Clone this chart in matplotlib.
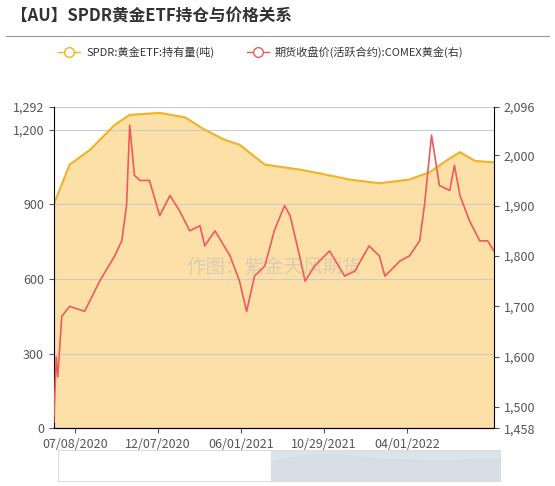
import matplotlib
matplotlib.use('Agg')
import matplotlib.pyplot as plt
import numpy as np

plt.rcParams['font.family'] = ['Noto Sans CJK SC', 'DejaVu Sans']

# trading-day number from chart start
etf_day = [0, 20, 46, 77, 96, 134, 166, 191, 216, 235, 267, 311, 336, 374, 412, 450, 476, 501, 514, 533, 552, 557]
etf_val = [900, 1060, 1120, 1220, 1260, 1268, 1250, 1200, 1160, 1140, 1060, 1040, 1025, 1000, 985, 1000, 1030, 1085, 1110, 1075, 1070, 1070]
px_day = [0, 3, 5, 10, 20, 39, 58, 77, 86, 92, 96, 102, 109, 121, 134, 147, 159, 172, 185, 191, 204, 223, 235, 244, 254,
          267, 279, 292, 299, 311, 318, 330, 349, 368, 381, 399, 412, 419, 438, 450, 463, 469, 478, 488, 501, 507, 514,
          526, 539, 549, 557]
px_val = [1470, 1600, 1560, 1680, 1700, 1690, 1750, 1800, 1830, 1900, 2060, 1960, 1950, 1950, 1880, 1920, 1890, 1850,
          1860, 1820, 1850, 1800, 1750, 1690, 1760, 1780, 1850, 1900, 1880, 1800, 1750, 1780, 1810, 1760, 1770, 1820,
          1800, 1760, 1790, 1800, 1830, 1900, 2040, 1940, 1930, 1980, 1920, 1870, 1830, 1830, 1810]
tick_day = [27, 132, 237, 342, 447]
tick_lab = ['07/08/2020', '12/07/2020', '06/01/2021', '10/29/2021', '04/01/2022']

fig = plt.figure(figsize=(5.55, 4.86), dpi=100)
fig.text(0.02, 0.955, '【AU】SPDR黄金ETF持仓与价格关系', fontsize=12, fontweight='bold', color='#333333')
fig.add_artist(plt.Line2D([0.01, 0.99], [0.925, 0.925], color='#999999', lw=0.8))

ax = fig.add_axes([0.097, 0.119, 0.793, 0.661])
ax.fill_between(etf_day, etf_val, color='#fde0a8', zorder=1)
ax.plot(etf_day, etf_val, color='#f0b323', lw=1.5, zorder=2)
ax.set_xlim(0, 557)
ax.set_ylim(0, 1292)
ax.set_yticks([0, 300, 600, 900, 1200, 1292])
ax.set_yticklabels(['0', '300', '600', '900', '1,200', '1,292'])
ax.set_xticks(tick_day)
ax.set_xticklabels(tick_lab)
for s in ['top', 'right']:
    ax.spines[s].set_visible(False)
ax.grid(axis='y', color='#cccccc', lw=0.8)
ax.tick_params(labelsize=9, colors='#555555')

ax2 = ax.twinx()
ax2.plot(px_day, px_val, color='#f05a5a', lw=1.2)
ax2.set_ylim(1458, 2096)
ax2.set_yticks([1458, 1500, 1600, 1700, 1800, 1900, 2000, 2096])
ax2.set_yticklabels(['1,458', '1,500', '1,600', '1,700', '1,800', '1,900', '2,000', '2,096'])
ax2.tick_params(labelsize=9, colors='#555555')
for s in ['top', 'left']:
    ax2.spines[s].set_visible(False)
ax.text(0.5, 0.5, '作图：紫金天风期货', transform=ax.transAxes, ha='center', va='center',
        fontsize=14, color='#bbbbbb', alpha=0.5)

# legend
fig.add_artist(plt.Line2D([0.105, 0.145], [0.893, 0.893], color='#f0b323', lw=1))
fig.add_artist(plt.Line2D([0.125], [0.893], marker='o', mfc='white', mec='#f0b323', ms=7))
fig.text(0.155, 0.893, 'SPDR:黄金ETF:持有量(吨)', fontsize=8, va='center', color='#333333')
fig.add_artist(plt.Line2D([0.445, 0.485], [0.893, 0.893], color='#f05a5a', lw=1))
fig.add_artist(plt.Line2D([0.465], [0.893], marker='o', mfc='white', mec='#f05a5a', ms=7))
fig.text(0.495, 0.893, '期货收盘价(活跃合约):COMEX黄金(右)', fontsize=8, va='center', color='#333333')

# data zoom slider
az = fig.add_axes([0.105, 0.01, 0.795, 0.065])
az.fill_between(etf_day, etf_val, color='#dddddd')
az.axvspan(0, 557, color='#d5dde8', alpha=0.8)
az.set_xlim(-520, 557)
az.set_ylim(0, 1500)
az.set_xticks([])
az.set_yticks([])
for s in az.spines.values():
    s.set_color('#dddddd')

fig.savefig('out.png', dpi=100)
